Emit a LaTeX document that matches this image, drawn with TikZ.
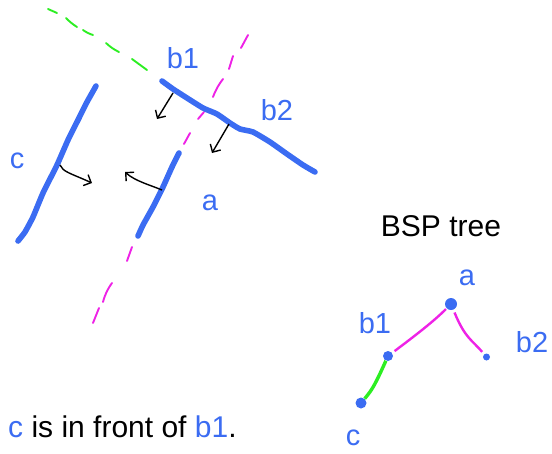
\documentclass[tikz,border=0pt]{standalone}
\usepackage{fontspec}
\setmainfont{Liberation Sans}
\usetikzlibrary{arrows.meta}
\definecolor{inkblue}{HTML}{3B6CF2}
\definecolor{inkpink}{HTML}{EE22E6}
\definecolor{inkgreen}{HTML}{2CEE22}
\begin{document}
\begin{tikzpicture}[x=1pt,y=-1pt,>={Straight Barb[length=6pt,width=12pt]},
seg/.style={inkblue,line width=5.6pt,line cap=round,line join=round},
split/.style={line width=1.9pt,line cap=round},
normal/.style={->,black,line width=1.4pt},
hand/.style={inkblue,font=\fontsize{29}{29}\selectfont,inner sep=0pt},
plain/.style={font=\fontsize{30}{30}\selectfont,inner sep=0pt},
leaf/.style={circle,fill=inkblue,inner sep=0pt,minimum size=#1}]
\useasboundingbox (0,0) rectangle (552,453);
\draw[split,inkgreen] (48,9)--(57,13) (66,18) to[bend right=6] (77,27) (83,30) to[bend right=8] (93,35) (106,43) to[bend right=8] (119,52) (132,59)--(147,70);
\draw[split,inkpink] (248,35)--(241,48) (233,56)--(229,69) (223,79) to[bend right=8] (213,97) (204,112)--(198,119) (190,133)--(184,144);
\draw[split,inkpink] (132,247)--(127,261) (112,283) to[bend right=10] (103,302) (99,308)--(93,323);
\draw[seg] plot[smooth,tension=.3] coordinates {(162,81) (173,89) (187,98) (203,108) (217,114) (230,123) (240,129) (253,132) (270,142) (287,154) (303,165) (315,172)};
\draw[seg] plot[smooth,tension=.3] coordinates {(179,153) (172,167) (163,187) (153,207) (143,225) (138,236)};
\draw[seg] plot[smooth,tension=.3] coordinates {(96,86) (87,102) (78,120) (68,140) (57,165) (43,193) (33,217) (25,232) (18,241)};
\coordinate (b1foot) at (173,93);
\coordinate (b1tip) at (157,119);
\coordinate (b2foot) at (229,124);
\coordinate (b2tip) at (212,153);
\coordinate (cfoot) at (60,165);
\coordinate (ctip) at (92,183);
\coordinate (afoot) at (162,190);
\coordinate (atip) at (125,172);
\draw[normal] (b1foot)--(b1tip);
\draw[normal] (b2foot)--(b2tip);
\draw[normal] (cfoot) .. controls (63,172) and (70,173) .. (ctip);
\draw[normal] (afoot) .. controls (150,185) and (135,181) .. (atip);
\node[hand] (labb1) at (183,58) {b1};
\node[hand] (labb2) at (277,110) {b2};
\node[hand] (laba) at (210,203) {a};
\node[hand] (labc) at (17,161) {c};
\node[plain,anchor=base] (title) at (441,236) {BSP tree};
\node[leaf=12pt] (a) at (451,304) {};
\node[leaf=10pt] (b1) at (388,356) {};
\node[leaf=7pt] (b2) at (486.5,357) {};
\node[leaf=11pt] (c) at (361,403) {};
\node[hand] (laba2) at (467,278) {a};
\node[hand] (labb12) at (375,323) {b1};
\node[hand] (labb22) at (532,342) {b2};
\node[hand] (labc2) at (353,438) {c};
\draw[inkpink,line width=2.4pt,shorten >=3pt,shorten <=1pt] (a) .. controls (435,320) and (420,332) .. (b1);
\draw[inkpink,line width=2.4pt,shorten <=3pt,shorten >=3pt] (a) .. controls (465,338) and (472,340) .. (b2);
\draw[inkgreen,line width=3.4pt] (b1) .. controls (375,385) and (372,390) .. (c);
\node[plain,anchor=base west] (front) at (8,437) {\textcolor{inkblue}{c} is in front of \textcolor{inkblue}{b1}.};
\end{tikzpicture}
\end{document}
